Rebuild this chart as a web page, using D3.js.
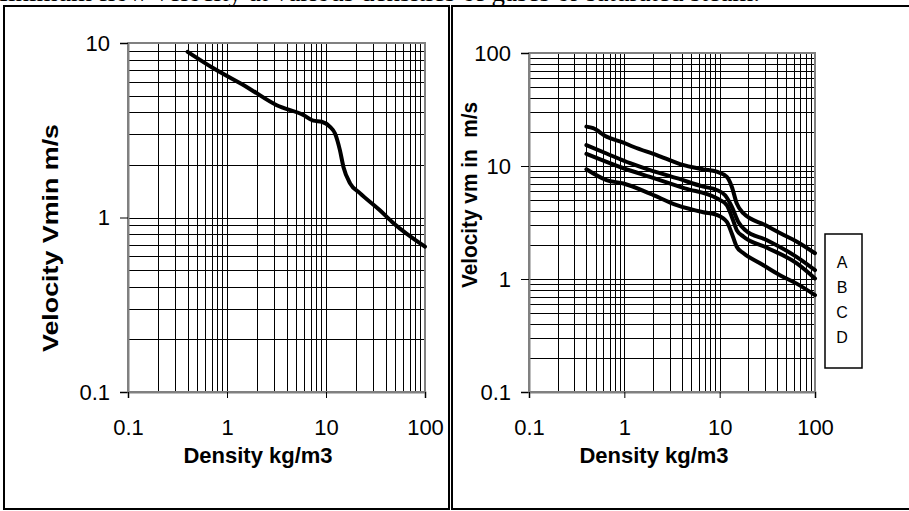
<!DOCTYPE html>
<html>
<head>
<meta charset="utf-8">
<script src="https://cdn.jsdelivr.net/npm/d3@7"></script>
<style>
body { margin: 0; background: #fff; }
text { font-family: "Liberation Sans", Arial, sans-serif; fill: #000; }
</style>
</head>
<body>
<div id="chart"></div>
<script>
const width = 909, height = 511;

// tick labels
const densityTicks = [0.1, 1, 10, 100];
const vminTicks = [0.1, 1, 10];
const vmTicks = [0.1, 1, 10, 100];
const legendLabels = ["A", "B", "C", "D"];

// left chart: minimum velocity
const vminDensity = [0.4, 0.73, 1.58, 3.18, 5.9, 7.45, 9.05, 11, 12.3, 13.8, 15, 17.5, 22, 35, 47.8, 100];
const vminVelocity = [8.9, 7.16, 5.6, 4.4, 3.87, 3.59, 3.54, 3.31, 3.04, 2.44, 1.95, 1.57, 1.38, 1.10, 0.93, 0.68];

// right chart: curves A..D
const densityA = [0.4, 0.47, 0.65, 0.98, 1.24, 2.19, 3.84, 6.75, 9.3, 11.9, 13.4, 15.1, 17.8, 30, 47, 64, 100];
const velocityA = [22.3, 21.6, 18.2, 16.1, 14.8, 12.5, 10.4, 9.34, 8.9, 8.0, 6.56, 4.67, 3.8, 3.0, 2.45, 2.15, 1.69];
const densityB = [0.4, 0.65, 1.15, 1.86, 3.55, 6.75, 9.3, 11.4, 13.4, 15.7, 18.5, 31, 64, 100];
const velocityB = [15.3, 12.9, 10.6, 9.2, 7.8, 6.56, 6.14, 5.5, 4.36, 3.2, 2.71, 2.21, 1.57, 1.2];
const densityC = [0.4, 0.98, 1.86, 4.3, 9.3, 11.9, 13.4, 15.1, 17.8, 31, 64, 100];
const velocityC = [12.8, 9.55, 8.0, 6.35, 5.18, 4.5, 3.56, 2.71, 2.37, 1.9, 1.38, 1.01];
const densityD = [0.4, 0.65, 0.98, 1.86, 3.55, 6.75, 9.3, 11.9, 13.4, 15.1, 17.8, 26.5, 42.9, 64.3, 100];
const velocityD = [9.35, 7.5, 7.0, 5.7, 4.5, 3.9, 3.7, 3.2, 2.53, 1.93, 1.69, 1.38, 1.08, 0.91, 0.72];

const svg = d3.select("#chart")
    .append("svg")
    .attr("width", width)
    .attr("height", height);

// caption, cut off at the top of the page as in the source
svg.append("text")
    .attr("x", 760)
    .attr("y", 0.5)
    .attr("text-anchor", "end")
    .style("font-family", "'Liberation Serif', 'Times New Roman', serif")
    .style("font-size", "27px")
    .text("Minimum flow velocity at various densities of gases or saturated steam.");

// panel frames
svg.append("rect")
    .attr("x", 4).attr("y", 6)
    .attr("width", 445).attr("height", 503)
    .attr("fill", "none").attr("stroke", "#000").attr("stroke-width", 2);
svg.append("rect")
    .attr("x", 452).attr("y", 6)
    .attr("width", 470).attr("height", 503)
    .attr("fill", "none").attr("stroke", "#000").attr("stroke-width", 2);

function drawPanel(p) {
    const x = d3.scaleLog().domain([0.1, 100]).range(p.xRange);
    const y = d3.scaleLog().domain(p.yDomain).range(p.yRange);
    const g = svg.append("g");

    g.append("rect")
        .attr("x", p.xRange[0]).attr("y", p.yRange[1])
        .attr("width", p.xRange[1] - p.xRange[0])
        .attr("height", p.yRange[0] - p.yRange[1])
        .attr("fill", "#fff");

    // log grid (1..9 in each decade)
    g.selectAll(".vgrid")
        .data(x.ticks().filter(d => d > 0.1 && d < 100))
        .enter().append("line")
        .attr("x1", d => Math.round(x(d)) + 0.5)
        .attr("x2", d => Math.round(x(d)) + 0.5)
        .attr("y1", p.yRange[0]).attr("y2", p.yRange[1])
        .attr("stroke", "#000").attr("stroke-width", 1)
        .attr("shape-rendering", "crispEdges");
    g.selectAll(".hgrid")
        .data(y.ticks().filter(d => d > p.yDomain[0] && d < p.yDomain[1]))
        .enter().append("line")
        .attr("y1", d => Math.round(y(d)) + 0.5)
        .attr("y2", d => Math.round(y(d)) + 0.5)
        .attr("x1", p.xRange[0]).attr("x2", p.xRange[1])
        .attr("stroke", "#000").attr("stroke-width", 1)
        .attr("shape-rendering", "crispEdges");

    g.append("rect")
        .attr("x", p.xRange[0]).attr("y", p.yRange[1])
        .attr("width", p.xRange[1] - p.xRange[0])
        .attr("height", p.yRange[0] - p.yRange[1])
        .attr("fill", "none").attr("stroke", "#808080").attr("stroke-width", 2);

    // axes
    const yAxis = g.append("g")
        .attr("transform", `translate(${p.xRange[0]},0)`)
        .call(d3.axisLeft(y).tickValues(p.yTicks).tickFormat(d => d).tickSize(8).tickPadding(10));
    const xAxis = g.append("g")
        .attr("transform", `translate(0,${p.yRange[0]})`)
        .call(d3.axisBottom(x).tickValues(densityTicks).tickFormat(d => d).tickSize(6).tickPadding(21));
    [yAxis, xAxis].forEach(a => {
        a.select(".domain").attr("stroke", "#808080").attr("stroke-width", 2);
        a.selectAll(".tick line").attr("stroke", "#000");
        a.selectAll(".tick text")
            .style("font-family", "'Liberation Sans', Arial, sans-serif")
            .style("font-size", "22px").attr("fill", "#000");
    });

    // curves
    const line = d3.line()
        .x(d => x(d[0]))
        .y(d => y(d[1]))
        .curve(d3.curveMonotoneX);
    g.selectAll(".curve")
        .data(p.series)
        .enter().append("path")
        .attr("d", d => line(d))
        .attr("fill", "none")
        .attr("stroke", "#000")
        .attr("stroke-width", 4)
        .attr("stroke-linejoin", "round")
        .attr("stroke-linecap", "round");

    // axis titles
    g.append("text")
        .attr("x", p.xTitlePos[0]).attr("y", p.xTitlePos[1])
        .attr("text-anchor", "middle")
        .style("font-size", "22px").style("font-weight", "bold")
        .text("Density kg/m3");
    g.append("text")
        .attr("transform", `translate(${p.yTitlePos[0]},${p.yTitlePos[1]}) rotate(-90)`)
        .attr("text-anchor", "middle")
        .attr("textLength", p.yTitleLength)
        .attr("lengthAdjust", "spacingAndGlyphs")
        .style("font-size", "22px").style("font-weight", "bold")
        .style("white-space", "pre")
        .text(p.yTitle);
}

drawPanel({
    xRange: [128, 425],
    yDomain: [0.1, 10],
    yRange: [392, 43],
    yTicks: vminTicks,
    series: [d3.zip(vminDensity, vminVelocity)],
    xTitlePos: [258, 463],
    yTitlePos: [58, 238],
    yTitleLength: 228,
    yTitle: "Velocity Vmin m/s"
});

drawPanel({
    xRange: [529, 815],
    yDomain: [0.1, 100],
    yRange: [392, 53],
    yTicks: vmTicks,
    series: [
        d3.zip(densityA, velocityA),
        d3.zip(densityB, velocityB),
        d3.zip(densityC, velocityC),
        d3.zip(densityD, velocityD)
    ],
    xTitlePos: [654, 463],
    yTitlePos: [477, 195],
    yTitleLength: 186,
    yTitle: "Velocity vm in  m/s"
});

// legend (labels only)
const legend = svg.append("g");
legend.append("rect")
    .attr("x", 825).attr("y", 234)
    .attr("width", 37).attr("height", 134)
    .attr("fill", "#fff").attr("stroke", "#000").attr("stroke-width", 1.5);
legend.selectAll(".lab")
    .data(legendLabels)
    .enter().append("text")
    .attr("x", 842)
    .attr("y", (d, i) => 268 + i * 25)
    .attr("text-anchor", "middle")
    .style("font-size", "16px")
    .text(d => d);
</script>
</body>
</html>
